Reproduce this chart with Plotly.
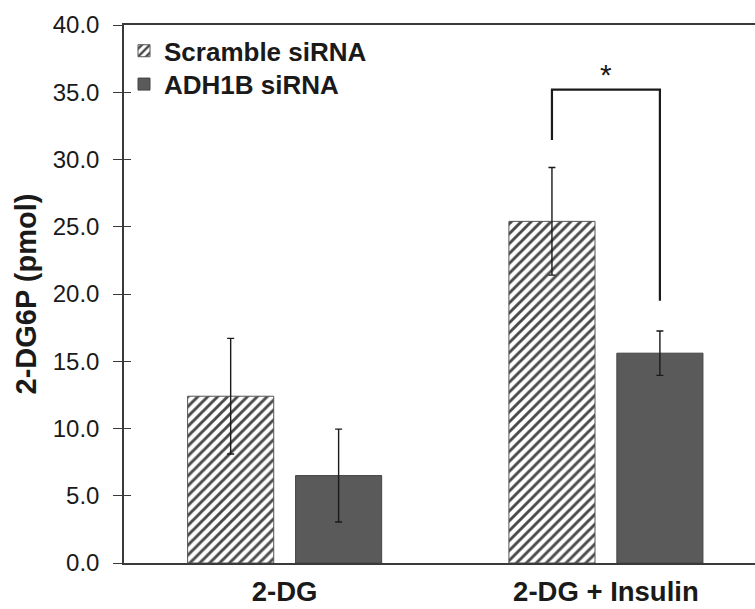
import plotly.graph_objects as go

# ---- data ----
categories = ["2-DG", "2-DG + Insulin"]
cat_pos = [0, 1]
scramble_vals = [12.4, 25.4]
scramble_err = [4.3, 4.0]
adh1b_vals = [6.5, 15.6]
adh1b_err = [3.45, 1.65]
series_names = ["Scramble siRNA", "ADH1B siRNA"]
y_tickvals = [0, 5, 10, 15, 20, 25, 30, 35, 40]
y_ticktext = ["0.0", "5.0", "10.0", "15.0", "20.0", "25.0", "30.0", "35.0", "40.0"]

# significance bracket (data units)
sig_top = 35.2
sig_left_bottom = 31.45
sig_right_bottom = 19.5
sig_label = "*"

# ---- layout/style ----
FONT = "Liberation Sans, Arial, sans-serif"
TXT = "#1a1a1a"
AX = "#3a3a3a"
BAR_W = 0.268
OFF_A = -0.302
OFF_B = 0.034

fig = go.Figure()
fig.add_trace(go.Bar(
    x=cat_pos, y=scramble_vals, name=series_names[0], legend="legend",
    width=BAR_W, offset=OFF_A,
    marker=dict(color="white",
                line=dict(color="#555555", width=1),
                pattern=dict(shape="/", fgcolor="#4a4a4a", bgcolor="white",
                             size=7, solidity=0.42, fillmode="replace")),
    error_y=dict(type="data", array=scramble_err, visible=True,
                 color="#1a1a1a", thickness=1.4, width=3.5),
))
fig.add_trace(go.Bar(
    x=cat_pos, y=adh1b_vals, name=series_names[1], legend="legend2",
    width=BAR_W, offset=OFF_B,
    marker=dict(color="#5a5a5a", line=dict(color="#444444", width=1)),
    error_y=dict(type="data", array=adh1b_err, visible=True,
                 color="#1a1a1a", thickness=1.4, width=3.5),
))

# bracket positions at bar centres of second category
xl = cat_pos[1] + OFF_A + BAR_W / 2
xr = cat_pos[1] + OFF_B + BAR_W / 2
fig.add_trace(go.Scatter(
    x=[xl, xl, xr, xr],
    y=[sig_left_bottom, sig_top, sig_top, sig_right_bottom],
    mode="lines", line=dict(color="#1a1a1a", width=2.2),
    showlegend=False, hoverinfo="skip",
))
fig.add_annotation(x=(xl + xr) / 2, y=sig_top, text=sig_label,
                   showarrow=False, yanchor="bottom", yshift=-3,
                   font=dict(family=FONT, size=30, color=TXT))

# overlay axis for inside half of crossing ticks
fig.add_trace(go.Scatter(x=[0], y=[0], yaxis="y2", mode="markers",
                         marker=dict(opacity=0), showlegend=False,
                         hoverinfo="skip"))

legend_common = dict(xanchor="left", yanchor="middle",
                     bgcolor="rgba(0,0,0,0)", borderwidth=0,
                     font=dict(family=FONT, size=26, color=TXT, weight="bold"),
                     itemclick=False, itemdoubleclick=False)

fig.update_layout(
    width=755, height=609,
    margin=dict(l=124, r=0, t=25, b=46, pad=0),
    plot_bgcolor="white", paper_bgcolor="white",
    barmode="overlay",
    font=dict(family=FONT, color=TXT),
    showlegend=True,
    legend=dict(x=0.0, y=0.952, **legend_common),
    legend2=dict(x=0.0, y=0.89, **legend_common),
    xaxis=dict(range=[-0.5, 1.464], tickvals=cat_pos, ticktext=categories,
               showline=True, linecolor=AX, linewidth=1.5, mirror=True,
               ticks="", showgrid=False, zeroline=False,
               tickfont=dict(family=FONT, size=27.5, color=TXT, weight="bold"),
               ticklabelstandoff=3, automargin=False),
    yaxis=dict(range=[0, 40], tickvals=y_tickvals, ticktext=y_ticktext,
               showline=True, linecolor=AX, linewidth=1.5,
               ticks="outside", ticklen=9, tickwidth=1.2, tickcolor=AX,
               showgrid=False, zeroline=False, automargin=False,
               tickfont=dict(family=FONT, size=24, color=TXT),
               ticklabelstandoff=9,
               title=dict(text="2-DG6P (pmol)", standoff=8,
                          font=dict(family=FONT, size=29, color=TXT,
                                    weight="bold"))),
    yaxis2=dict(range=[0, 40], overlaying="y", side="left",
                tickvals=y_tickvals, showticklabels=False,
                ticks="inside", ticklen=7, tickwidth=1.2, tickcolor=AX,
                showgrid=False, zeroline=False, showline=False),
)

fig.write_html(
    "out.html",
    config={"displayModeBar": False},
    post_script="document.body.style.margin='0';"
                "document.body.style.overflow='hidden';",
)
